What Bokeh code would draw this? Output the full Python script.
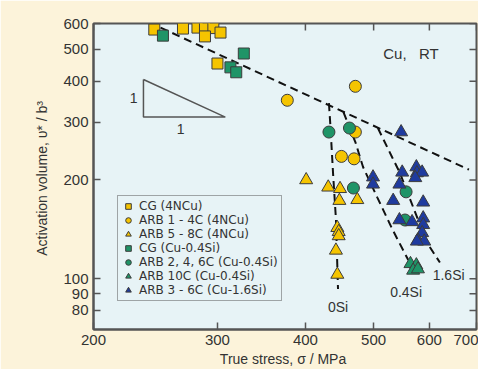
from bokeh.plotting import figure
from bokeh.models import FixedTicker, PrintfTickFormatter
from bokeh.core.properties import value
from bokeh.embed import file_html
from bokeh.resources import INLINE
import math

# ---- data (true stress MPa, activation volume b^3) ----
cg_4ncu_x = [244, 268, 281, 288, 296, 288, 303, 300]
cg_4ncu_y = [575, 579, 583, 583, 581, 548, 563, 453]

arb14_4ncu_x = [377, 471, 471, 450, 469]
arb14_4ncu_y = [350, 386, 280, 236, 232]

arb58_4ncu_x = [401, 431, 448, 447, 474, 444, 446, 446, 442, 444]
arb58_4ncu_y = [200, 190, 188, 173, 174, 143, 139, 135, 122, 103]

cg_04si_x = [251, 313, 319, 327]
cg_04si_y = [551, 441, 426, 486]

arb246_04si_x = [432, 462, 468, 556, 554]
arb246_04si_y = [280, 288, 189, 184, 151]

arb10_04si_x = [564, 575, 569, 578]
arb10_04si_y = [111, 110, 106, 107]

arb36_16si_x = [547, 499, 499, 549, 544, 575, 576, 586, 573, 533, 588,
                544, 567, 588, 588, 586, 578, 590, 576]
arb36_16si_y = [280, 204, 194, 211, 194, 219, 210, 211, 203, 173, 171,
                151, 149, 153, 146, 138, 131, 130, 130]

# guide lines
main_line_x = [249, 683]
main_line_y = [583, 215]
si0_x = [432, 434, 438, 442, 445]
si0_y = [343, 294, 207, 152, 93]
si04_x = [453, 471, 483, 506, 532, 560]
si04_y = [322, 261, 219, 177, 141, 114]
si16_x = [507, 531, 545, 595, 621]
si16_y = [288, 235, 210, 129, 112]
slope_tri_x = [235.5, 235.5, 307.8, 235.5]
slope_tri_y = [405, 311, 311, 405]

x_ticks = [200, 300, 400, 500, 600, 700]
y_ticks = [80, 90, 100, 200, 300, 400, 500, 600]
x_lo, x_hi = 200, 700
y_lo, y_hi = 70, 600

YEL = "#f5c400"
GRN = "#1f9467"
BLU = "#1f3b9f"
EDGE = "#3c3c3c"
INK = "#333333"
AX = "#555555"
FONT = "Liberation Sans"

p = figure(width=478, height=369, x_axis_type="log", y_axis_type="log",
           x_range=(x_lo, x_hi), y_range=(y_lo, y_hi),
           output_backend="svg", toolbar_location=None,
           min_border_left=93, min_border_right=2, min_border_top=23, min_border_bottom=39)
p.background_fill_color = "#e7f3f6"
p.border_fill_color = "#fcf3da"
p.outline_line_color = AX
p.outline_line_width = 2
p.grid.visible = False

p.xaxis.ticker = FixedTicker(ticks=x_ticks)
p.yaxis.ticker = FixedTicker(ticks=y_ticks)
p.xaxis.formatter = PrintfTickFormatter(format="%d")
p.yaxis.formatter = PrintfTickFormatter(format="%d")
p.xaxis.axis_label = "True stress,  σ / MPa"
p.yaxis.axis_label = "Activation volume,  υ* / b³"

for ax in [p.xaxis[0], p.yaxis[0]]:
    ax.major_tick_in = 7
    ax.major_tick_out = 0
    ax.minor_tick_line_color = None
    ax.axis_line_color = AX
    ax.axis_line_width = 2
    ax.major_tick_line_color = AX
    ax.major_tick_line_width = 1.5
    ax.major_label_text_font = FONT
    ax.major_label_text_font_size = "15px"
    ax.major_label_text_color = INK
    ax.axis_label_text_font = FONT
    ax.axis_label_text_font_size = "14px"
    ax.axis_label_text_font_style = "normal"
    ax.axis_label_text_color = INK
p.xaxis.major_label_standoff = 5
p.xaxis.axis_label_standoff = 3
p.yaxis.major_label_standoff = 5
p.yaxis.axis_label_standoff = 10

# mirrored inward ticks on top and right (half of each dash is clipped by the frame)
p.scatter(x=[x_hi] * len(y_ticks), y=y_ticks, marker="dash", size=14,
          line_color=AX, line_width=1.5)
p.scatter(x=x_ticks, y=[y_hi] * len(x_ticks), marker="dash", size=14, angle=math.pi / 2,
          line_color=AX, line_width=1.5)

# guide lines
dash = dict(line_color="#111111", line_width=2, line_dash="8 5")
p.line(main_line_x, main_line_y, **dash)
p.line(si0_x, si0_y, **dash)
p.line(si04_x, si04_y, **dash)
p.line(si16_x, si16_y, **dash)
p.line(slope_tri_x, slope_tri_y, line_color=AX, line_width=1.5)

# data
common = dict(line_color=EDGE, line_width=1)
p.scatter(cg_4ncu_x, cg_4ncu_y, marker="square", size=11, fill_color=YEL,
          legend_label="CG (4NCu)", **common)
p.scatter(arb14_4ncu_x, arb14_4ncu_y, marker="circle", size=12, fill_color=YEL,
          legend_label="ARB 1 - 4C (4NCu)", **common)
p.scatter(arb58_4ncu_x, arb58_4ncu_y, marker="triangle", size=13, fill_color=YEL,
          legend_label="ARB 5 - 8C (4NCu)", **common)
p.scatter(cg_04si_x, cg_04si_y, marker="square", size=11, fill_color=GRN,
          legend_label="CG (Cu-0.4Si)", **common)
p.scatter(arb246_04si_x, arb246_04si_y, marker="circle", size=12, fill_color=GRN,
          legend_label="ARB 2, 4, 6C (Cu-0.4Si)", **common)
p.scatter(arb10_04si_x, arb10_04si_y, marker="triangle", size=13, fill_color=GRN,
          legend_label="ARB 10C (Cu-0.4Si)", **common)
p.scatter(arb36_16si_x, arb36_16si_y, marker="triangle", size=13, fill_color=BLU,
          legend_label="ARB 3 - 6C (Cu-1.6Si)", **common)

# texts
txt = dict(text_font=value(FONT), text_color=INK, text_align="center", text_baseline="middle")
p.text(x=[565], y=[486], text=["Cu,\u00a0\u00a0\u00a0RT"], text_font_size="15px", **txt)
p.text(x=[445], y=[82], text=["0Si"], text_font_size="14px", **txt)
p.text(x=[556], y=[91.3], text=["0.4Si"], text_font_size="14px", **txt)
p.text(x=[639], y=[102.8], text=["1.6Si"], text_font_size="14px", **txt)
p.text(x=[228, 266], y=[355, 286], text=["1", "1"], text_font_size="14px", **txt)

lg = p.legend[0]
lg.location = (24, 28)
lg.border_line_color = AX
lg.border_line_width = 1.5
lg.background_fill_color = "#e7f3f6"
lg.background_fill_alpha = 1
lg.label_text_font = "DejaVu Sans"
lg.label_text_font_size = "12px"
lg.label_text_color = INK
lg.label_height = 14
lg.glyph_height = 14
lg.glyph_width = 14
lg.label_standoff = 4
lg.spacing = 0
lg.padding = 3
lg.margin = 0

open("out.html", "w").write(file_html(p, INLINE))
